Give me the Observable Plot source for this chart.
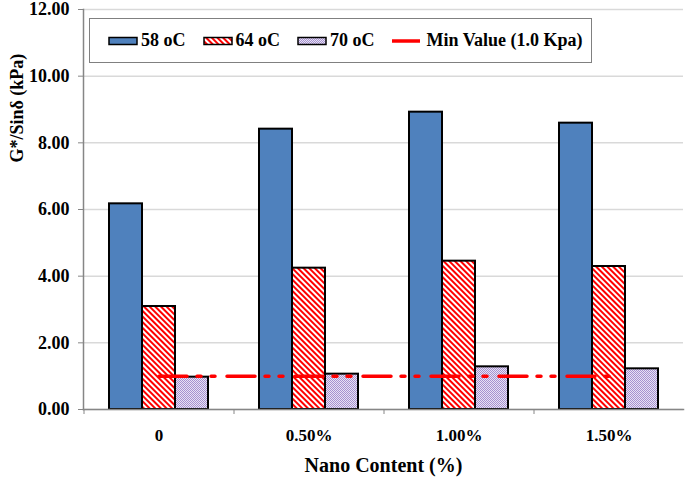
<!DOCTYPE html>
<html>
<head>
<meta charset="utf-8">
<script src="https://cdn.jsdelivr.net/npm/d3@7"></script>
<script src="https://cdn.jsdelivr.net/npm/@observablehq/plot@0.6"></script>
<style>
  html, body { margin: 0; padding: 0; background: white; }
  #wrap { position: relative; width: 685px; height: 477px; font-family: "Liberation Serif", "Times New Roman", serif; font-weight: bold; }
  #legend { position: absolute; left: 89px; top: 18px; width: 503px; height: 45px; box-sizing: border-box;
            border: 1.5px solid #808080; background: white; display: flex; align-items: center; padding-left: 18px; font-size: 18px; color: black; }
  .item { display: flex; align-items: center; margin-right: 17px; }
  .item svg { display: block; }
  .item span { margin-left: 3px; white-space: nowrap; }
  .item.line span { margin-left: 7px; }
</style>
</head>
<body>
<svg width="0" height="0" style="position:absolute">
  <defs>
    <pattern id="hatch" width="4" height="4" patternUnits="userSpaceOnUse" patternTransform="rotate(-45)">
      <rect width="4" height="4" fill="white"/>
      <rect width="2" height="4" fill="#ff0000"/>
    </pattern>
    <pattern id="dots" width="2" height="2" patternUnits="userSpaceOnUse">
      <rect width="2" height="2" fill="#e8e2f4"/>
      <rect x="0" y="0" width="1" height="1" fill="#a692d0"/>
      <rect x="1" y="1" width="1" height="1" fill="#a692d0"/>
    </pattern>
  </defs>
</svg>
<div id="wrap"></div>
<script>
const categories = ["0", "0.50%", "1.00%", "1.50%"];
const seriesNames = ["58 oC", "64 oC", "70 oC"];
const values58 = [6.17, 8.41, 8.92, 8.59];
const values64 = [3.09, 4.24, 4.45, 4.29];
const values70 = [0.97, 1.06, 1.28, 1.22];
const minValue = 1.0;
const minLabel = "Min Value (1.0 Kpa)";
const yTicks = [0, 2, 4, 6, 8, 10, 12];
const xTitle = "Nano Content (%)";
const yTitle = "G*/Sinδ (kPa)";

const fills = ["#4f81bd", "url(#hatch)", "url(#dots)"];
const seriesValues = [values58, values64, values70];
const insets = [[0, 66], [33, 33], [66, 0]];
const axisGrey = "#868686";

const barMarks = seriesValues.map((vals, s) =>
  Plot.barY(categories, {
    x: d => d,
    y: (d, i) => vals[i],
    fill: fills[s],
    stroke: "black",
    strokeWidth: 2,
    insetLeft: insets[s][0],
    insetRight: insets[s][1]
  })
);

const chart = Plot.plot({
  width: 685,
  height: 477,
  marginLeft: 83,
  marginRight: 2,
  marginTop: 9,
  marginBottom: 68,
  style: { fontFamily: '"Liberation Serif", "Times New Roman", serif', fontWeight: "bold", fontSize: "18px", color: "black", background: "white" },
  x: { type: "band", domain: categories, paddingInner: 0.34, paddingOuter: 0.17, label: null },
  y: { domain: [0, 12], label: null },
  marks: [
    Plot.gridY(yTicks, { stroke: "#d9d9d9", strokeOpacity: 1, strokeWidth: 1.5 }),
    ...barMarks,
    Plot.lineY(categories, { x: d => d, y: () => minValue, stroke: "#ff0000", strokeWidth: 3.5, strokeDasharray: "28,10,4,10,4,12" }),
    Plot.frame({ anchor: "left", stroke: axisGrey, strokeWidth: 1.5 }),
    Plot.frame({ anchor: "bottom", stroke: axisGrey, strokeWidth: 1.5 }),
    Plot.axisY(yTicks, { tickFormat: d => d.toFixed(2), tickSize: 5, tickPadding: 9, fontSize: 18, fontWeight: "bold", stroke: axisGrey, label: null }),
    Plot.axisX({ tickSize: 0, tickPadding: 19, fontSize: 17, fontWeight: "bold", label: null }),
    Plot.axisX({ tickSize: 5, tickFormat: () => "", dx: -75, stroke: axisGrey, label: null }),
    Plot.text([xTitle], { frameAnchor: "bottom", dy: 62, fontSize: 20, fontWeight: "bold", fill: "black" }),
    Plot.text([yTitle], { frameAnchor: "left", rotate: -90, dx: -66, dy: -47, fontSize: 18, fontWeight: "bold", fill: "black" })
  ]
});

const wrap = document.getElementById("wrap");
wrap.appendChild(chart);

const legend = document.createElement("div");
legend.id = "legend";
const ns = "http://www.w3.org/2000/svg";
seriesNames.forEach((name, s) => {
  const item = document.createElement("div");
  item.className = "item";
  const sw = document.createElementNS(ns, "svg");
  sw.setAttribute("width", 30); sw.setAttribute("height", 10);
  const r = document.createElementNS(ns, "rect");
  r.setAttribute("x", 1); r.setAttribute("y", 1.5); r.setAttribute("width", 28); r.setAttribute("height", 7);
  r.setAttribute("fill", fills[s]); r.setAttribute("stroke", "black"); r.setAttribute("stroke-width", 1.5);
  sw.appendChild(r);
  item.appendChild(sw);
  const t = document.createElement("span"); t.textContent = name;
  item.appendChild(t);
  legend.appendChild(item);
});
{
  const item = document.createElement("div");
  item.className = "item line";
  const sw = document.createElementNS(ns, "svg");
  sw.setAttribute("width", 28); sw.setAttribute("height", 10);
  const l = document.createElementNS(ns, "line");
  l.setAttribute("x1", 0); l.setAttribute("x2", 28); l.setAttribute("y1", 5); l.setAttribute("y2", 5);
  l.setAttribute("stroke", "#ff0000"); l.setAttribute("stroke-width", 3.5);
  sw.appendChild(l);
  item.appendChild(sw);
  const t = document.createElement("span"); t.textContent = minLabel;
  item.appendChild(t);
  legend.appendChild(item);
}
wrap.appendChild(legend);
</script>
</body>
</html>
